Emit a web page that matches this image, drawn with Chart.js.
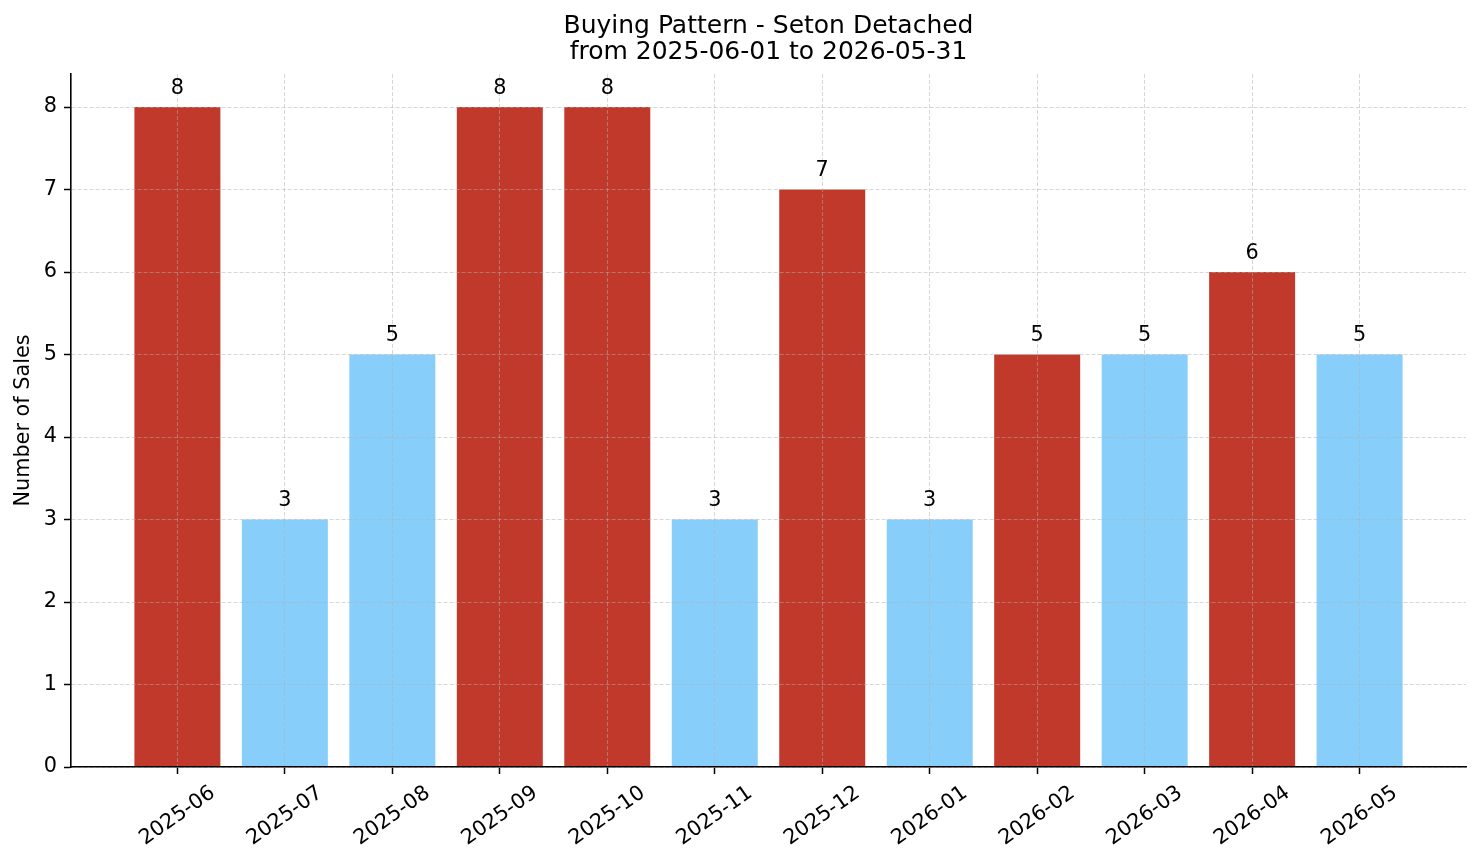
<!DOCTYPE html>
<html>
<head>
<meta charset="utf-8">
<title>Buying Pattern - Seton Detached</title>
<script src="https://cdn.jsdelivr.net/npm/chart.js@4.4.1/dist/chart.umd.min.js"></script>
<style>
  html, body { margin: 0; padding: 0; background: #ffffff; }
  canvas { display: block; }
</style>
</head>
<body>
<canvas id="buyingChart" width="1481" height="863"></canvas>
<script>
// Datos del gráfico
const months = ['2025-06', '2025-07', '2025-08', '2025-09', '2025-10', '2025-11',
                '2025-12', '2026-01', '2026-02', '2026-03', '2026-04', '2026-05'];
const sales = [8, 3, 5, 8, 8, 3, 7, 3, 5, 5, 6, 5];
// Barras resaltadas (rojas) en el original
const highlighted = [true, false, false, true, true, false, true, false, true, false, true, false];
const yTicks = [0, 1, 2, 3, 4, 5, 6, 7, 8];
const titleLines = ['Buying Pattern - Seton Detached', 'from 2025-06-01 to 2026-05-31'];

const RED = '#c0392b';
const BLUE = '#87cefa';
const GRID = 'rgba(176, 176, 176, 0.5)';
const FONT = 'DejaVu Sans';

Chart.defaults.font.family = FONT;
Chart.defaults.color = '#000';

// Etiquetas de valores y etiquetas rotadas del eje X
const labelsPlugin = {
    id: 'labelsPlugin',
    afterDraw(chart) {
        const ctx = chart.ctx;
        const xScale = chart.scales.x;
        const yScale = chart.scales.y;
        const meta = chart.getDatasetMeta(0);
        ctx.save();
        ctx.fillStyle = '#000';
        ctx.font = '20.8px "' + FONT + '"';
        ctx.textAlign = 'center';
        ctx.textBaseline = 'alphabetic';
        meta.data.forEach((bar, i) => {
            const y = yScale.getPixelForValue(sales[i] + 0.1) - 4.9;
            ctx.fillText(String(sales[i]), bar.x, y);
        });
        ctx.textBaseline = 'middle';
        months.forEach((m, i) => {
            const x = xScale.getPixelForValue(i);
            ctx.save();
            ctx.translate(x, xScale.top + 49);
            ctx.rotate(-35 * Math.PI / 180);
            ctx.fillText(m, 0, 0);
            ctx.restore();
        });
        ctx.restore();
    }
};

const ctx = document.getElementById('buyingChart').getContext('2d');

new Chart(ctx, {
    type: 'bar',
    data: {
        datasets: [{
            data: sales.map((v, i) => ({ x: i, y: v })),
            backgroundColor: highlighted.map(h => h ? RED : BLUE),
            borderWidth: 0,
            categoryPercentage: 0.8,
            barPercentage: 1.0
        }]
    },
    options: {
        responsive: false,
        animation: false,
        layout: { padding: { right: 15 } },
        plugins: {
            legend: { display: false },
            tooltip: { enabled: false },
            title: {
                display: true,
                fullSize: false,
                text: titleLines,
                color: '#000',
                font: { size: 25, weight: 'normal', lineHeight: 1.03 },
                padding: { top: 14, bottom: 8.5 }
            }
        },
        scales: {
            x: {
                type: 'linear',
                offset: false,
                min: -0.99,
                max: 11.99,
                afterBuildTicks: (scale) => { scale.ticks = months.map((m, i) => ({ value: i })); },
                afterFit: (scale) => { scale.height = 96; },
                ticks: { display: false },
                grid: {
                    offset: false,
                    color: GRID,
                    lineWidth: 1,
                    tickColor: '#000',
                    tickWidth: 1.5,
                    tickLength: 7,
                    z: 1
                },
                border: { color: '#000', width: 1.6, dash: [4, 2], z: 2 }
            },
            y: {
                min: 0,
                max: 8.4,
                afterBuildTicks: (scale) => { scale.ticks = yTicks.map(v => ({ value: v })); },
                afterFit: (scale) => { scale.width = 71; },
                ticks: { color: '#000', padding: 7, font: { size: 20.8 } },
                title: {
                    display: true,
                    text: 'Number of Sales',
                    color: '#000',
                    font: { size: 20.8 },
                    padding: { top: 11, bottom: 0 }
                },
                grid: {
                    color: GRID,
                    lineWidth: 1,
                    tickColor: '#000',
                    tickWidth: 1.5,
                    tickLength: 7,
                    z: 1
                },
                border: { color: '#000', width: 1.6, dash: [4, 2], z: 2 }
            }
        }
    },
    plugins: [labelsPlugin]
});
</script>
</body>
</html>
